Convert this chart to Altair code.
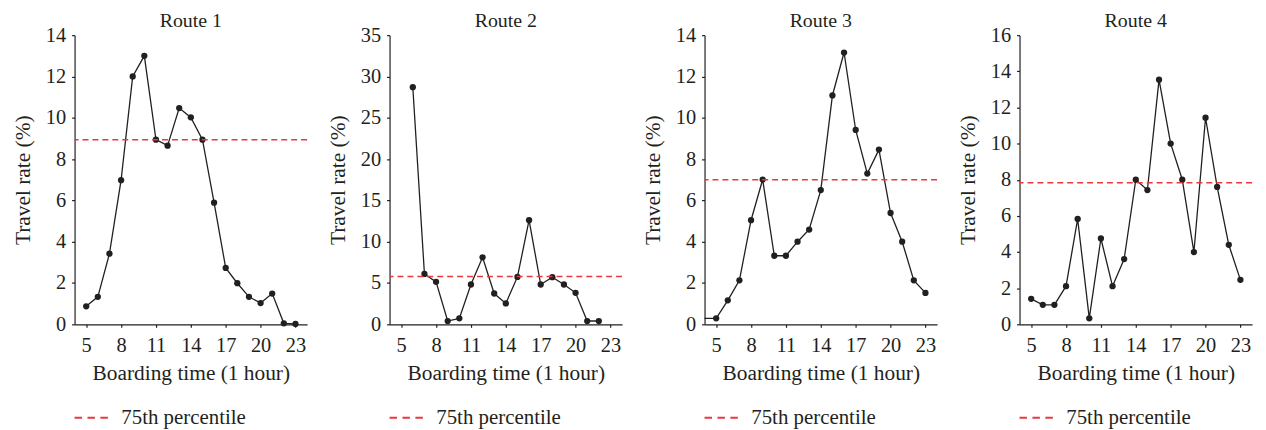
import altair as alt
import pandas as pd

# ---- data ----
titles = ["Route 1", "Route 2", "Route 3", "Route 4"]

hours_1 = list(range(5, 24))
rate_1 = [0.87, 1.33, 3.42, 6.98, 12.0, 13.0, 8.94, 8.65, 10.47, 10.02,
          8.94, 5.89, 2.73, 1.99, 1.33, 1.03, 1.49, 0.05, 0.02]

hours_2 = list(range(6, 23))
rate_2 = [28.7, 6.1, 5.14, 0.4, 0.72, 4.82, 8.11, 3.73, 2.53, 5.74,
          12.6, 4.82, 5.70, 4.82, 3.81, 0.4, 0.4]

hours_3 = list(range(4, 24))
rate_3 = [0.29, 0.29, 1.16, 2.13, 5.04, 7.01, 3.32, 3.32, 4.0, 4.59, 6.5,
          11.08, 13.16, 9.41, 7.30, 8.46, 5.39, 4.0, 2.13, 1.52]

hours_4 = list(range(5, 24))
rate_4 = [1.41, 1.08, 1.08, 2.11, 5.83, 0.33, 4.75, 2.11, 3.61, 8.0,
          7.43, 13.54, 10.0, 8.0, 4.0, 11.43, 7.6, 4.4, 2.46]

p75 = [8.94, 5.78, 7.0, 7.83]
y_max = [14, 35, 14, 16]
y_step = [2, 5, 2, 2]
x_ticks = [5, 8, 11, 14, 17, 20, 23]
legend_label = "75th percentile"

FONT = "Liberation Serif"
TXT = "#231f20"
RED = "#e8393f"

series = [(hours_1, rate_1), (hours_2, rate_2), (hours_3, rate_3), (hours_4, rate_4)]


def panel(i):
    hours, rates = series[i]
    df = pd.DataFrame({"hour": hours, "rate": rates})
    y_vals = [float(v) for v in range(0, y_max[i] + 1, y_step[i])]
    x = alt.X("hour:Q",
              scale=alt.Scale(domain=[4, 24], nice=False, zero=False),
              axis=alt.Axis(values=x_ticks, title="Boarding time (1 hour)",
                            labelOverlap=False))
    y_axis = alt.Axis(values=y_vals, title="Travel rate (%)",
                      labelOverlap=False, tickCount=len(y_vals))
    y = alt.Y("rate:Q",
              scale=alt.Scale(domain=[0, y_max[i]], nice=False),
              axis=y_axis)
    line = alt.Chart(df).mark_line(color=TXT, strokeWidth=1.3).encode(x=x, y=y)
    pts = (alt.Chart(df).transform_filter(alt.datum.hour >= 5)
           .mark_circle(size=40, color=TXT, opacity=1).encode(x=x, y=y))
    ref_df = pd.DataFrame({"rate": [p75[i]], "label": [legend_label]})
    ref = alt.Chart(ref_df).mark_rule(strokeDash=[6, 4], strokeWidth=1.5).encode(
        y=alt.Y("rate:Q", axis=y_axis),
        color=alt.Color("label:N", scale=alt.Scale(range=[RED]),
                        legend=alt.Legend(title=None, orient="none",
                                          legendX=-1, legendY=367,
                                          symbolType="stroke", symbolSize=1156,
                                          symbolStrokeWidth=2,
                                          symbolDash=[7.5, 5.5],
                                          labelFont=FONT, labelFontSize=21,
                                          labelColor=TXT, labelOffset=12,
                                          padding=0)))
    return alt.layer(line, pts, ref).properties(
        width=234, height=291,
        title=alt.Title(titles[i], font=FONT, fontSize=20, fontWeight="normal",
                        color=TXT, offset=-6, anchor="middle"))


chart = (alt.hconcat(*[panel(i) for i in range(4)], spacing=83, bounds="flush")
         .resolve_scale(x="independent", y="independent", color="independent")
         .resolve_legend(color="independent")
         .properties(padding={"left": 4, "top": 2, "right": 5, "bottom": 0})
         .configure_view(stroke=None)
         .configure_axis(grid=False, domainColor=TXT, domainWidth=1.2,
                         tickColor=TXT, tickSize=3, tickWidth=1.2,
                         labelFont=FONT, labelFontSize=20.5, labelColor=TXT,
                         labelOverlap=False,
                         labelPadding=6, titleFont=FONT, titleFontSize=21.5,
                         titleFontWeight="normal", titleColor=TXT)
         .configure_axisY(titlePadding=11)
         .configure_axisX(titlePadding=7, labelPadding=8))

chart.save("out.html", embed_options={"renderer": "svg", "actions": False})
